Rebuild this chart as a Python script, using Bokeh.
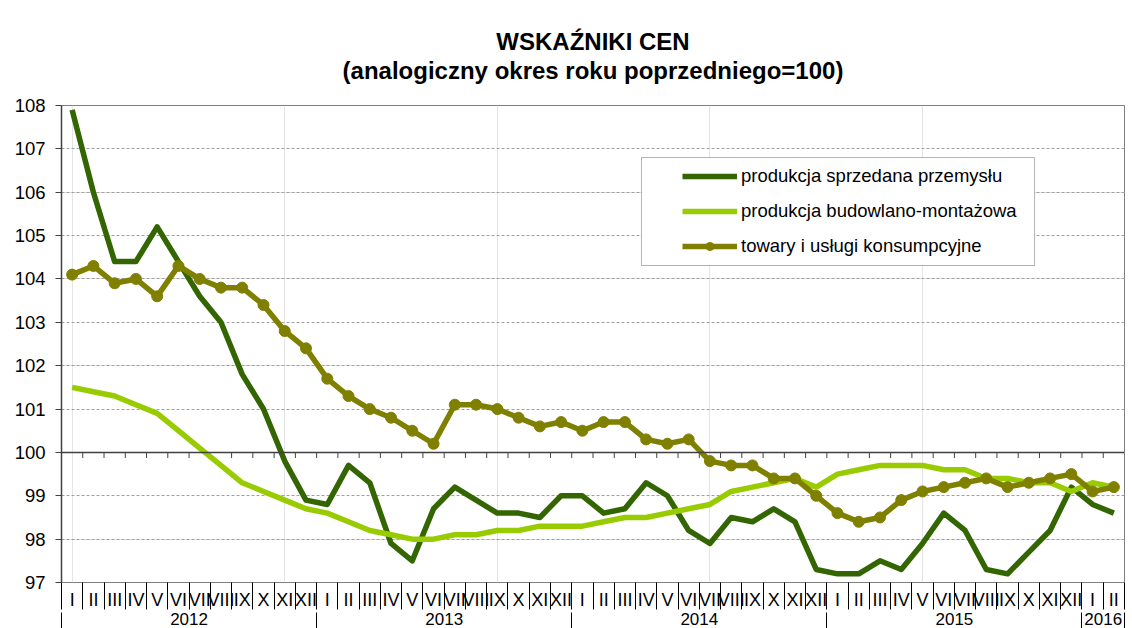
from bokeh.plotting import figure
from bokeh.models import (Range1d, LinearAxis, FixedTicker, Title, Legend, LegendItem,
                          BoxAnnotation, Span, Grid)
from bokeh.embed import file_html
from bokeh.resources import INLINE

# ---------------- data ----------------
months = ["I", "II", "III", "IV", "V", "VI", "VII", "VIII", "IX", "X", "XI", "XII"]
years = ["2012", "2013", "2014", "2015", "2016"]
months_per_year = [12, 12, 12, 12, 2]
month_labels = months * 4 + ["I", "II"]

industrial = [107.9, 106.0, 104.4, 104.4, 105.2, 104.4, 103.6, 103.0, 101.8, 101.0, 99.8, 98.9,
              98.8, 99.7, 99.3, 97.9, 97.5, 98.7, 99.2, 98.9, 98.6, 98.6, 98.5, 99.0,
              99.0, 98.6, 98.7, 99.3, 99.0, 98.2, 97.9, 98.5, 98.4, 98.7, 98.4, 97.3,
              97.2, 97.2, 97.5, 97.3, 97.9, 98.6, 98.2, 97.3, 97.2, 97.7, 98.2, 99.2,
              98.8, 98.6]
construction = [101.5, 101.4, 101.3, 101.1, 100.9, 100.5, 100.1, 99.7, 99.3, 99.1, 98.9, 98.7,
                98.6, 98.4, 98.2, 98.1, 98.0, 98.0, 98.1, 98.1, 98.2, 98.2, 98.3, 98.3,
                98.3, 98.4, 98.5, 98.5, 98.6, 98.7, 98.8, 99.1, 99.2, 99.3, 99.4, 99.2,
                99.5, 99.6, 99.7, 99.7, 99.7, 99.6, 99.6, 99.4, 99.4, 99.3, 99.3, 99.1,
                99.3, 99.2]
consumer = [104.1, 104.3, 103.9, 104.0, 103.6, 104.3, 104.0, 103.8, 103.8, 103.4, 102.8, 102.4,
            101.7, 101.3, 101.0, 100.8, 100.5, 100.2, 101.1, 101.1, 101.0, 100.8, 100.6, 100.7,
            100.5, 100.7, 100.7, 100.3, 100.2, 100.3, 99.8, 99.7, 99.7, 99.4, 99.4, 99.0,
            98.6, 98.4, 98.5, 98.9, 99.1, 99.2, 99.3, 99.4, 99.2, 99.3, 99.4, 99.5,
            99.1, 99.2]
series_names = ["produkcja sprzedana przemysłu", "produkcja budowlano-montażowa",
                "towary i usługi konsumpcyjne"]
title_lines = ["WSKAŹNIKI CEN", "(analogiczny okres roku poprzedniego=100)"]
y_ticks = list(range(97, 109))

# ---------------- figure ----------------
FONT = "Liberation Sans"
NARROW = "Liberation Sans Narrow, Liberation Sans"
n = len(month_labels)
x = list(range(n))

p = figure(width=1132, height=628, output_backend="svg", toolbar_location=None,
           x_range=Range1d(-0.5, n - 0.5), y_range=Range1d(97, 108),
           x_axis_location=None, y_axis_location=None,
           min_border_left=61, min_border_right=8, min_border_top=105, min_border_bottom=46,
           background_fill_color="white", border_fill_color="white")
p.outline_line_color = "#7f7f7f"
p.outline_line_width = 1

# two-line centred title
title = Title(text="\n".join(title_lines), align="center",
              text_font=FONT, text_font_size="24px", text_font_style="bold",
              text_line_height=1.1, text_color="#000000", standoff=42)
try:
    title.text_align = "center"
except Exception:
    pass
p.add_layout(title, "above")

# grid
ytick = FixedTicker(ticks=y_ticks)
p.add_layout(Grid(dimension=1, ticker=ytick, grid_line_color="#a0a0a0",
                  grid_line_dash="3 2", grid_line_width=1))

# left axis
yaxis = LinearAxis(ticker=ytick, axis_line_color="#404040", axis_line_width=1.5,
                   major_tick_line_color="#404040", major_tick_out=6, major_tick_in=0,
                   minor_tick_line_color=None, major_label_standoff=10,
                   major_label_text_font=FONT, major_label_text_font_size="18.5px",
                   major_label_text_color="#000000")
p.add_layout(yaxis, "left")

# month axis (separators drawn as outward minor ticks)
bounds = [i - 0.5 for i in range(n + 1)]
ax_m = LinearAxis(ticker=FixedTicker(ticks=x, minor_ticks=bounds),
                  major_label_overrides={i: m for i, m in enumerate(month_labels)},
                  axis_line_color=None, major_tick_line_color=None,
                  major_tick_out=0, major_tick_in=0,
                  minor_tick_out=0, minor_tick_in=-27, minor_tick_line_color="#000000",
                  major_label_standoff=7, major_label_text_font=NARROW,
                  major_label_text_font_size="18px", major_label_text_color="#000000")
p.add_layout(ax_m, "below")

# year axis
yr_bounds = [-0.5]
for c in months_per_year:
    yr_bounds.append(yr_bounds[-1] + c)
yr_centers = [(a + b) / 2 for a, b in zip(yr_bounds[:-1], yr_bounds[1:])]
ax_y = LinearAxis(ticker=FixedTicker(ticks=yr_centers, minor_ticks=yr_bounds),
                  major_label_overrides={c: y for c, y in zip(yr_centers, years)},
                  axis_line_color=None, major_tick_line_color=None,
                  major_tick_out=0, major_tick_in=0,
                  minor_tick_out=0, minor_tick_in=-22, minor_tick_line_color="#000000",
                  major_label_standoff=0, major_label_text_font=NARROW,
                  major_label_text_font_size="17px", major_label_text_color="#000000")
p.add_layout(ax_y, "below")

# horizontal axis line at 100 with ticks at category boundaries
p.add_layout(Span(location=100, dimension="width", line_color="#404040", line_width=1.5))
inner_b = bounds[1:-1]
p.segment(x0=inner_b, y0=[100] * len(inner_b), x1=inner_b, y1=[100 - 0.13] * len(inner_b),
          line_color="#404040", line_width=1)

# series
r1 = p.line(x, industrial, line_color="#336600", line_width=5.5, line_join="round")
r2 = p.line(x, construction, line_color="#99cc00", line_width=5.5, line_join="round")
r3 = p.line(x, consumer, line_color="#808000", line_width=5.5, line_join="round")
r3m = p.scatter(x, consumer, size=11, marker="circle", fill_color="#808000",
                line_color="#808000")

# legend box + legend
p.add_layout(BoxAnnotation(left=26.78, right=45.27, bottom=104.31, top=106.80,
                           fill_color="white", fill_alpha=1,
                           line_color="#000000", line_width=1))
legend = Legend(items=[LegendItem(label=series_names[0], renderers=[r1]),
                       LegendItem(label=series_names[1], renderers=[r2]),
                       LegendItem(label=series_names[2], renderers=[r3, r3m])],
                location=(621, 325), padding=0, margin=0, border_line_color=None,
                background_fill_alpha=0, glyph_width=55, glyph_height=20,
                label_height=20, spacing=13, label_standoff=4,
                label_text_font=FONT, label_text_font_size="18.5px",
                label_text_color="#000000")
p.add_layout(legend)

open("out.html", "w").write(file_html(p, INLINE))
